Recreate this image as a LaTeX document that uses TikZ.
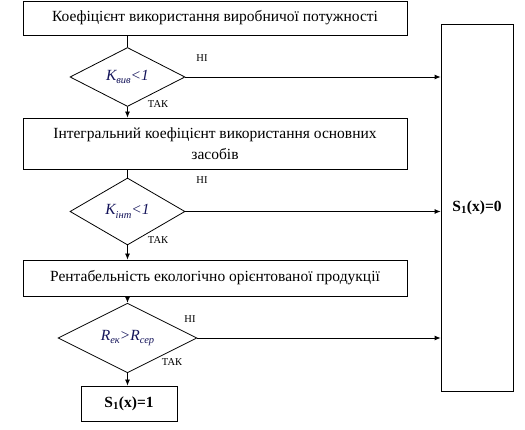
\documentclass[tikz,border=0pt]{standalone}
\usepackage{fontspec}
\setmainfont{Liberation Serif}
\usetikzlibrary{arrows.meta,shapes.geometric}
\definecolor{navyt}{RGB}{20,20,90}
\newcommand{\mysub}[1]{\raisebox{-0.25em}{\fontsize{10.5}{12}\selectfont #1}}
\tikzset{
  box/.style={draw,line width=0.8pt,inner sep=0pt,font=\fontsize{15.5}{21}\selectfont,align=center},
  dia/.style={draw,line width=0.8pt,diamond,inner sep=0pt,font=\fontsize{15.5}{17}\selectfont\itshape,text=navyt},
  lbl/.style={font=\fontsize{10.5}{12}\selectfont,inner sep=0pt},
  arr/.style={line width=0.8pt,-{Latex[length=6pt,width=5pt]}},
  ln/.style={line width=0.8pt}
}
\begin{document}
\begin{tikzpicture}[x=1pt,y=-1pt]
\useasboundingbox (0,0) rectangle (525,430);
\node[box,minimum width=384pt,minimum height=34pt] (b1) at (215,18) {Коефіцієнт використання виробничої потужності};
\node[dia,minimum width=115pt,minimum height=59pt] (d1) at (127.5,77) {K\mysub{вив}<1};
\node[box,minimum width=384pt,minimum height=51pt] (b2) at (215,143.5) {Інтегральний коефіцієнт використання основних\\засобів};
\node[dia,minimum width=115pt,minimum height=67pt] (d2) at (127.5,211.5) {K\mysub{інт}<1};
\node[box,minimum width=384pt,minimum height=36pt] (b3) at (215,278) {Рентабельність екологічно орієнтованої продукції};
\node[dia,minimum width=139pt,minimum height=58pt] (d3) at (127.5,338) {R\mysub{ек}>R\mysub{сер}};
\node[box,minimum width=96pt,minimum height=35pt,font=\fontsize{15.5}{18}\selectfont\bfseries] (s1) at (129,403.5) {S\textsubscript{1}(x)=1};
\node[box,minimum width=72pt,minimum height=367pt,font=\fontsize{15.5}{18}\selectfont\bfseries] (s0) at (477,207.5) {S\textsubscript{1}(x)=0};
\draw[ln] (d1.north |- b1.south) -- (d1.north);
\draw[arr] (d1.south) -- (d1.south |- b2.north);
\draw[ln] (d2.north |- b2.south) -- (d2.north);
\draw[arr] (d2.south) -- (d2.south |- b3.north);
\draw[arr] (d3.north |- b3.south) -- (d3.north);
\draw[arr] (d3.south) -- (d3.south |- s1.north);
\draw[arr] (d1.east) -- (d1.east -| s0.west);
\draw[arr] (d2.east) -- (d2.east -| s0.west);
\draw[arr] (d3.east) -- (d3.east -| s0.west);
\node[lbl] (n1) at (202,58) {НІ};
\node[lbl] (n2) at (202,180) {НІ};
\node[lbl] (n3) at (190,319) {НІ};
\node[lbl] (t1) at (158,104) {ТАК};
\node[lbl] (t2) at (158,240) {ТАК};
\node[lbl] (t3) at (172,362) {ТАК};
\end{tikzpicture}
\end{document}
